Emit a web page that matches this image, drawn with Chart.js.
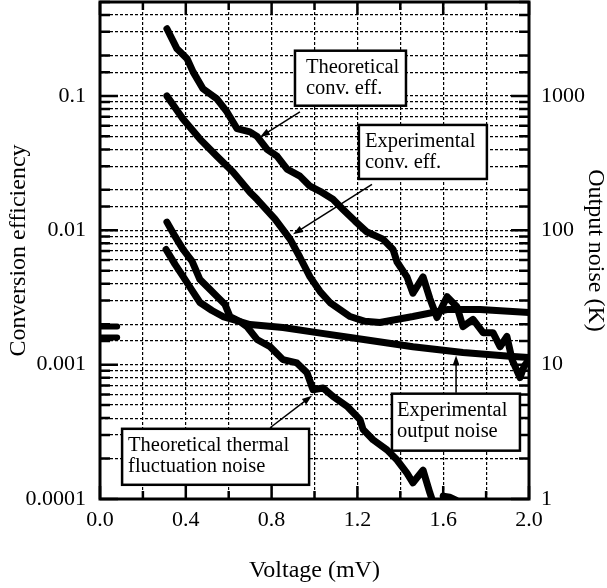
<!DOCTYPE html>
<html lang="en">
<head>
<meta charset="UTF-8">
<title>Conversion efficiency and output noise</title>
<script src="https://cdn.jsdelivr.net/npm/chart.js@4.4.0/dist/chart.umd.min.js"></script>
<style>
  body { margin: 0; background: #fff; }
  canvas { display: block; }
</style>
</head>
<body>
<canvas id="chart" width="607" height="588"></canvas>
<script>
// values: voltage in mV, efficiency (left axis), noise in K (right axis)
var thEffV = [0.312, 0.359, 0.406, 0.434, 0.480, 0.545, 0.592, 0.639, 0.699, 0.732, 0.779, 0.825, 0.872, 0.932, 0.979, 1.026, 1.086, 1.133, 1.189, 1.245, 1.319, 1.366, 1.385, 1.431, 1.459, 1.506, 1.538, 1.571, 1.618, 1.664, 1.692, 1.739, 1.786, 1.832, 1.865, 1.897, 1.921, 1.958, 1.977, 2.0];
var thEff = [0.316, 0.224, 0.189, 0.151, 0.113, 0.095, 0.076, 0.057, 0.054, 0.050, 0.040, 0.0356, 0.0285, 0.0253, 0.0213, 0.0195, 0.0170, 0.0143, 0.0117, 0.0097, 0.0086, 0.0072, 0.0058, 0.0045, 0.0034, 0.0045, 0.0031, 0.00224, 0.0032, 0.0027, 0.00192, 0.00217, 0.00173, 0.00173, 0.00136, 0.00162, 0.00109, 0.00080, 0.00097, 0.00109];

var exEffV = [0.312, 0.387, 0.466, 0.545, 0.620, 0.699, 0.732, 0.816, 0.886, 0.932, 0.979, 1.026, 1.072, 1.166, 1.235, 1.305, 1.459, 1.618, 1.772, 2.0];
var exEff = [0.100, 0.0673, 0.0477, 0.0356, 0.0271, 0.0192, 0.0170, 0.0121, 0.0086, 0.0063, 0.0045, 0.0035, 0.0029, 0.00228, 0.00210, 0.00206, 0.00228, 0.00257, 0.00257, 0.00244];

var exNoiseV = [0.308, 0.350, 0.387, 0.429, 0.466, 0.522, 0.573, 0.699, 0.853, 1.012, 1.166, 1.459, 1.692, 1.925, 2.0];
var exNoise = [72, 55.7, 45.4, 35.7, 29.0, 25.3, 22.8, 19.9, 18.9, 17.3, 15.9, 13.6, 12.3, 11.5, 11.3];

var thNoiseV = [0.312, 0.350, 0.387, 0.429, 0.466, 0.513, 0.545, 0.583, 0.606, 0.653, 0.685, 0.732, 0.793, 0.853, 0.918, 0.965, 0.993, 1.040, 1.086, 1.152, 1.212, 1.226, 1.273, 1.338, 1.385, 1.431, 1.459, 1.506, 1.538, 1.557, 1.58, 1.60, 1.63, 1.66];
var thNoise = [115, 90, 72, 59, 43, 36.3, 32.2, 28.0, 22.8, 20.9, 19.2, 15.4, 13.6, 10.9, 10.3, 8.7, 6.5, 6.7, 5.8, 4.9, 3.9, 3.3, 2.76, 2.32, 1.95, 1.56, 1.32, 1.64, 1.11, 0.9, null, 1.05, 1.03, 0.98];

// the two short marks at zero bias on the left edge
var zeroV = [0.0, 0.08];
var zeroNoiseA = [19.2, 19.2];
var zeroNoiseB = [15.9, 15.9];

function pts(xs, ys) {
  return xs.map(function (x, i) { return { x: x, y: ys[i] }; });
}
function isDecade(v) {
  var l = Math.log10(v);
  return Math.abs(l - Math.round(l)) < 1e-6;
}
function isMajorX(v) {
  return Math.abs(v / 0.4 - Math.round(v / 0.4)) < 1e-6;
}

var serif = "'Liberation Serif', 'Times New Roman', serif";
Chart.defaults.font.family = serif;
Chart.defaults.color = '#000';

function curve(data, axis, width) {
  return {
    data: data,
    yAxisID: axis,
    borderColor: '#000',
    borderWidth: width,
    borderJoinStyle: 'round',
    borderCapStyle: 'round',
    pointRadius: 0,
    fill: false,
    spanGaps: false
  };
}

// box notes with arrows, anchored in data coordinates
var notes = [
  { x: 0.909, y: 0.217, w: 111, h: 55, dx: 11, lines: ['Theoretical', 'conv. eff.'], from: [0.932, 0.076], to: [0.746, 0.0494] },
  { x: 1.207, y: 0.0608, w: 128, h: 54, dx: 6, lines: ['Experimental', 'conv. eff.'], from: [1.268, 0.0220], to: [0.900, 0.00933] },
  { x: 0.103, y: 0.000333, w: 187, h: 56, dx: 6, lines: ['Theoretical thermal', 'fluctuation noise'], from: [0.793, 0.000339], to: [0.988, 0.000588] },
  { x: 1.361, y: 0.000608, w: 128, h: 57, dx: 5, lines: ['Experimental', 'output noise'], from: [1.660, 0.000618], to: [1.660, 0.00117] }
];

var frameTicks = {
  id: 'frameTicks',
  afterDatasetsDraw: function (chart) {
    var ctx = chart.ctx, a = chart.chartArea, s = chart.scales;
    ctx.save();
    ctx.strokeStyle = '#000';
    ctx.lineWidth = 2.5;
    ctx.beginPath();
    s.x.ticks.forEach(function (t) {
      var px = s.x.getPixelForValue(t.value);
      var len = isMajorX(t.value) ? 13 : 8;
      ctx.moveTo(px, a.bottom); ctx.lineTo(px, a.bottom - len);
      ctx.moveTo(px, a.top); ctx.lineTo(px, a.top + len);
    });
    s.y.ticks.forEach(function (t) {
      var py = s.y.getPixelForValue(t.value);
      ctx.moveTo(a.left, py); ctx.lineTo(a.left + (isDecade(t.value) ? 18 : 10), py);
    });
    s.y2.ticks.forEach(function (t) {
      var py = s.y2.getPixelForValue(t.value);
      ctx.moveTo(a.right, py); ctx.lineTo(a.right - (isDecade(t.value) ? 18 : 10), py);
    });
    ctx.stroke();
    ctx.lineWidth = 3;
    ctx.strokeRect(a.left, a.top, a.right - a.left, a.bottom - a.top);
    ctx.restore();
  },
  afterDraw: function (chart) {
    var ctx = chart.ctx, s = chart.scales;
    ctx.save();
    notes.forEach(function (n) {
      var x1 = s.x.getPixelForValue(n.from[0]), y1 = s.y.getPixelForValue(n.from[1]);
      var x2 = s.x.getPixelForValue(n.to[0]), y2 = s.y.getPixelForValue(n.to[1]);
      var ang = Math.atan2(y2 - y1, x2 - x1);
      ctx.strokeStyle = '#000';
      ctx.fillStyle = '#000';
      ctx.lineWidth = 1.5;
      ctx.beginPath();
      ctx.moveTo(x1, y1);
      ctx.lineTo(x2 - 6 * Math.cos(ang), y2 - 6 * Math.sin(ang));
      ctx.stroke();
      ctx.beginPath();
      ctx.moveTo(x2, y2);
      ctx.lineTo(x2 - 10 * Math.cos(ang) + 3.5 * Math.sin(ang), y2 - 10 * Math.sin(ang) - 3.5 * Math.cos(ang));
      ctx.lineTo(x2 - 10 * Math.cos(ang) - 3.5 * Math.sin(ang), y2 - 10 * Math.sin(ang) + 3.5 * Math.cos(ang));
      ctx.closePath();
      ctx.fill();

      var bx = s.x.getPixelForValue(n.x), by = s.y.getPixelForValue(n.y);
      ctx.fillStyle = '#fff';
      ctx.fillRect(bx, by, n.w, n.h);
      ctx.lineWidth = 2.5;
      ctx.strokeRect(bx, by, n.w, n.h);
      ctx.fillStyle = '#000';
      ctx.font = '20.5px ' + serif;
      ctx.textBaseline = 'middle';
      ctx.textAlign = 'left';
      n.lines.forEach(function (line, i) {
        ctx.fillText(line, bx + n.dx, by + 17 + i * 21);
      });
    });
    ctx.restore();
  }
};

// keep the plot area fixed: no extra room for the (empty) end labels
function fixY(width) {
  return function (sc) { sc.width = width; sc.paddingTop = 0; sc.paddingBottom = 0; };
}

new Chart('chart', {
  type: 'line',
  data: {
    datasets: [
      curve(pts(thEffV, thEff), 'y', 7),
      curve(pts(exEffV, exEff), 'y', 7),
      curve(pts(exNoiseV, exNoise), 'y2', 7),
      curve(pts(thNoiseV, thNoise), 'y2', 7),
      curve(pts(zeroV, zeroNoiseA), 'y2', 6),
      curve(pts(zeroV, zeroNoiseB), 'y2', 6)
    ]
  },
  options: {
    responsive: false,
    animation: false,
    layout: { padding: { top: 2, left: 0, right: 0, bottom: 0 } },
    plugins: {
      legend: { display: false },
      tooltip: { enabled: false }
    },
    scales: {
      x: {
        type: 'linear',
        min: 0,
        max: 2,
        afterFit: function (sc) { sc.height = 89; sc.paddingLeft = 0; sc.paddingRight = 0; },
        ticks: {
          stepSize: 0.2,
          autoSkip: false,
          maxRotation: 0,
          padding: 8,
          font: { size: 22 },
          callback: function (v) { return isMajorX(v) ? v.toFixed(1) : ''; }
        },
        grid: { color: '#000', lineWidth: 1.2, drawTicks: false },
        border: { display: false, dash: [3, 2] },
        title: { display: true, text: 'Voltage (mV)', font: { size: 24, lineHeight: 1 }, padding: { top: 0, bottom: 5 } }
      },
      y: {
        type: 'logarithmic',
        position: 'left',
        min: 0.0001,
        max: 0.5,
        afterFit: fixY(100),
        ticks: {
          autoSkip: false,
          padding: 14,
          font: { size: 22 },
          callback: function (v) { return isDecade(v) ? String(v) : ''; }
        },
        grid: { color: '#000', lineWidth: 1.2, drawTicks: false },
        border: { display: false, dash: [3, 2] },
        title: { display: true, text: 'Conversion efficiency', font: { size: 24, lineHeight: 1 }, padding: { top: 7, bottom: 0 } }
      },
      y2: {
        type: 'logarithmic',
        position: 'right',
        min: 1,
        max: 5000,
        afterFit: fixY(78),
        ticks: {
          autoSkip: false,
          padding: 12,
          font: { size: 22 },
          callback: function (v) { return isDecade(v) ? String(v) : ''; }
        },
        grid: { display: false, drawTicks: false },
        border: { display: false },
        title: { display: true, text: 'Output noise (K)', font: { size: 24, lineHeight: 1 }, padding: { top: 0, bottom: 0 } }
      }
    }
  },
  plugins: [frameTicks]
});
</script>
</body>
</html>
